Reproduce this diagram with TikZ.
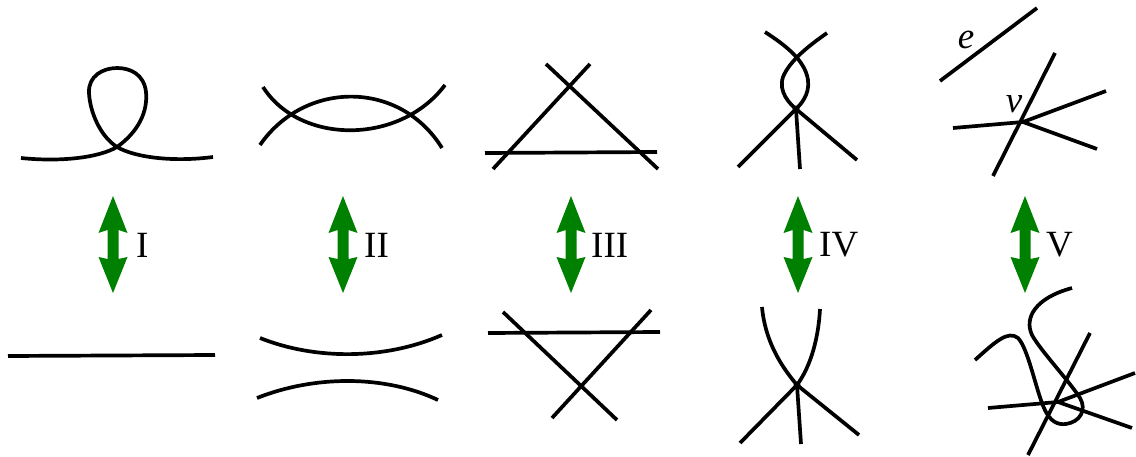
\documentclass[tikz,border=0pt]{standalone}
\usepackage{fontspec}
\setmainfont{Liberation Serif}
\definecolor{arrgreen}{RGB}{0,128,0}
\begin{document}
\begin{tikzpicture}[x=1pt,y=-1pt,
  strand/.style={line width=3.7pt,black},
  lbl/.style={anchor=west,inner sep=0pt,font=\fontsize{37}{40}\selectfont},
  mlbl/.style={inner sep=0pt,font=\fontsize{37}{40}\selectfont\itshape},
  dblarrow/.pic={\fill[arrgreen] (0,-48.5) -- (14.5,-11.5) -- (5.5,-14.5) -- (5.5,14.5) -- (14.5,12.5) -- (0,48.5) -- (-14.5,12.5) -- (-5.5,14.5) -- (-5.5,-14.5) -- (-14.5,-11.5) -- cycle;}]
\useasboundingbox (0,0) rectangle (1136,457);

% ---- I ----
\draw[strand] (21,158) .. controls (60,162) and (98,158) .. (117,147)
  .. controls (138,132) and (148,112) .. (146,92)
  .. controls (144,74) and (130,68) .. (117,68)
  .. controls (103,68) and (88,76) .. (89,93)
  .. controls (90,112) and (100,136) .. (117,147)
  .. controls (136,158) and (175,162) .. (213,157);
\draw[strand] (8,356) -- (215,355);
\pic at (113,244.5) {dblarrow};
\node[lbl] (l1) at (136,245) {I};

% ---- II ----
\draw[strand] (263,87) .. controls (300,145) and (400,145) .. (445,85);
\draw[strand] (260,145) .. controls (305,80) and (400,80) .. (442,148);
\draw[strand] (260,338) .. controls (315,360) and (385,360) .. (442,335);
\draw[strand] (257,398) .. controls (315,375) and (385,375) .. (438,400);
\pic at (343,244.5) {dblarrow};
\node[lbl] (l2) at (364,245) {II};

% ---- III ----
\draw[strand] (546,64) -- (658,169);
\draw[strand] (590,64) -- (493,169);
\draw[strand] (485,153) -- (657,152);
\draw[strand] (488,333) -- (660,332);
\draw[strand] (503,312) -- (617,420);
\draw[strand] (651,310) -- (552,418);
\pic at (571,244.5) {dblarrow};
\node[lbl] (l3) at (591,245) {III};

% ---- IV ----
\coordinate (v4) at (796,109);
\draw[strand] (765,32) .. controls (785,45) and (805,60) .. (808,80)
  .. controls (810,95) and (800,105) .. (v4);
\draw[strand] (827,33) .. controls (810,45) and (790,60) .. (783,77)
  .. controls (778,92) and (790,104) .. (v4);
\draw[strand] (v4) -- (738,167);
\draw[strand] (v4) -- (800,169);
\draw[strand] (v4) -- (857,160);
\fill (v4) circle (3.5);
\coordinate (w4) at (797,385);
\draw[strand] (762,307) .. controls (765,340) and (780,365) .. (w4);
\draw[strand] (820,309) .. controls (818,345) and (808,370) .. (w4);
\draw[strand] (w4) -- (740,443);
\draw[strand] (w4) -- (801,444);
\draw[strand] (w4) -- (859,435);
\fill (w4) circle (3.5);
\pic at (798,244.5) {dblarrow};
\node[lbl] (l4) at (819,245) {IV};

% ---- V ----
\draw[strand] (940,81) -- (1037,8);
\node[mlbl] (e) at (966,40) {e};
\coordinate (v5) at (1023,122);
\node[mlbl] (v) at (1014,104) {v};
\draw[strand] (953,128) -- (v5);
\draw[strand] (1055,53) -- (993,176);
\draw[strand] (v5) -- (1106,91);
\draw[strand] (v5) -- (1097,149);
\coordinate (w5) at (1058,402);
\draw[strand] (975,360) .. controls (995,342) and (1008,330) .. (1018,338)
  .. controls (1028,348) and (1036,390) .. (1044,408)
  .. controls (1050,422) and (1058,425) .. (1066,424)
  .. controls (1080,422) and (1087,410) .. (1080,398)
  .. controls (1070,382) and (1040,350) .. (1032,335)
  .. controls (1024,318) and (1035,298) .. (1072,288);
\draw[strand] (988,408) -- (w5);
\draw[strand] (1090,333) -- (1028,455);
\draw[strand] (w5) -- (1135,373);
\draw[strand] (w5) -- (1132,428);
\pic at (1025,244.5) {dblarrow};
\node[lbl] (l5) at (1046,245) {V};
\end{tikzpicture}
\end{document}
